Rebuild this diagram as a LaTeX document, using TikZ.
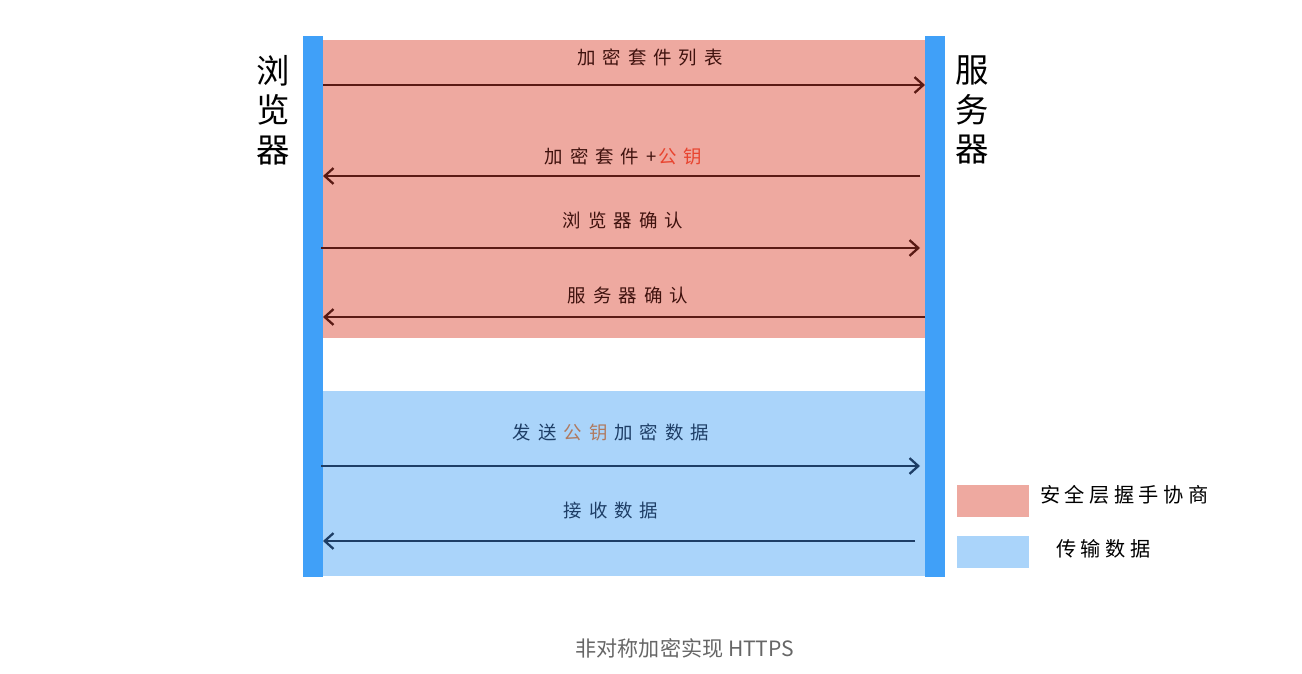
\documentclass[tikz,border=0pt]{standalone}
\usepackage{fontspec}
\setmainfont{Noto Sans CJK SC}
\newfontfamily\handfont[LetterSpace=38]{Noto Sans CJK SC}
\newfontfamily\legendfont[LetterSpace=22]{Noto Sans CJK SC}
\usetikzlibrary{arrows.meta,positioning}
\definecolor{barblue}{RGB}{64,160,248}
\definecolor{handred}{RGB}{238,169,160}
\definecolor{datablue}{RGB}{170,212,250}
\definecolor{redline}{RGB}{90,26,20}
\definecolor{blueline}{RGB}{30,62,102}
\definecolor{keyred}{RGB}{232,68,47}
\definecolor{keybrown}{RGB}{176,122,96}
\newcommand{\hlword}[3][.38em]{\kern#1\textcolor{#2}{#3}\kern.38em}

\begin{document}
\begin{tikzpicture}[
        x=0.02cm, y=-0.02cm,
        font=\fontsize{10}{12}\selectfont,
        bar/.style={fill=barblue},
        msg/.style={->, line width=1.3pt, >={Straight Barb[length=5pt,width=9pt]}},
        side/.style={align=center, font=\fontsize{19}{22.5}\selectfont},
        lbl/.style={inner sep=1pt, font=\handfont\fontsize{10.5}{12}\selectfont},
        legendbox/.style={fill=#1, minimum width=1.44cm, minimum height=0.65cm, inner sep=0pt},
        legendtext/.style={anchor=west, font=\legendfont\fontsize{11.5}{14}\selectfont}
    ]
        \useasboundingbox (0,0) rectangle (1302,673);

        % regions
        \fill[handred] (323,40) rectangle (925,338);
        \fill[datablue] (323,391) rectangle (925,576);
        \fill[bar] (303,36) rectangle (323,577);
        \fill[bar] (925,36) rectangle (945,577);

        \node[side] (browser) at (273,110) {浏\\览\\器};
        \node[side] (server) at (972,110) {服\\务\\器};

        % messages
        \foreach \nm/\ya/\xa/\xb/\col in {m1/85/323/925/redline, m2/176/920/323/redline, m3/248/321/920/redline,
                m4/317/925/323/redline, m5/466/321/920/blueline, m6/541/915/323/blueline} {
            \coordinate (\nm s) at (\xa,\ya);
            \coordinate (\nm e) at (\xb,\ya);
            \draw[msg, draw=\col] (\nm s) -- (\nm e);
        }

        \node[lbl, text=redline!70!black] (t1) at (650,57) {加密套件列表};
        \node[lbl, text=redline!70!black] (t2) at (627,156) {加密套件+\hlword[.1em]{keyred}{公钥}};
        \node[lbl, text=redline!70!black] (t3) at (623,220) {浏览器确认};
        \node[lbl, text=redline!70!black] (t4) at (628,295) {服务器确认};
        \node[lbl, text=blueline] (t5) at (611,432) {发送\hlword{keybrown}{公钥}加密数据};
        \node[lbl, text=blueline] (t6) at (611,511) {接收数据};

        % legend
        \node[legendbox=handred] (lg1) at (993,501) {};
        \node[legendbox=datablue] (lg2) at (993,552) {};
        \node[legendtext] (lt1) at (1034,495) {安全层握手协商};
        \node[legendtext] (lt2) at (1050,549) {传输数据};

        \node[text=black!60, font=\fontsize{12}{14}\selectfont] (cap) at (685,648) {非对称加密实现 HTTPS};
    \end{tikzpicture}
\end{document}
